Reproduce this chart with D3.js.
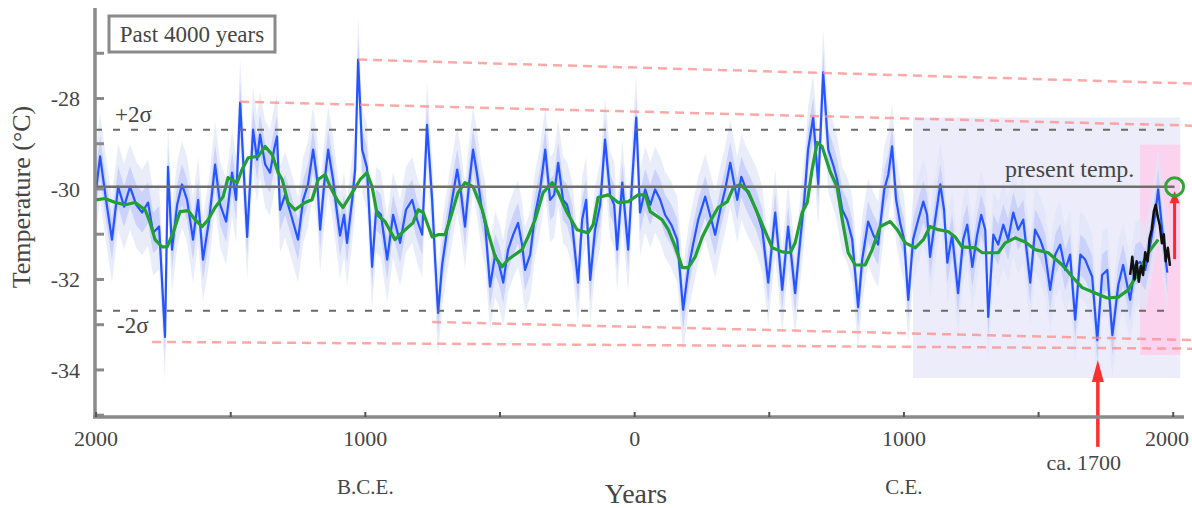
<!DOCTYPE html>
<html>
<head>
<meta charset="utf-8">
<script src="https://cdn.jsdelivr.net/npm/d3@7"></script>
<style>
  body { margin: 0; background: #fff; }
  svg { display: block; }
  text { font-family: "Liberation Serif", "Times New Roman", serif; fill: #454545; }
</style>
</head>
<body>
<svg id="chart" width="1192" height="508"></svg>
<script>
// Reconstructed Greenland summit temperature, past 4000 years (°C)
const blueYears = [-2000,-1985,-1963,-1941,-1918,-1896,-1874,-1851,-1829,-1807,-1788,-1766,-1744,-1733,-1718,-1699,-1681,-1662,-1640,-1621,-1603,-1580,-1558,-1539,-1517,-1495,-1480,-1465,-1450,-1439,-1417,-1402,-1391,-1372,-1354,-1339,-1328,-1317,-1298,-1276,-1250,-1231,-1213,-1194,-1179,-1168,-1153,-1138,-1120,-1109,-1094,-1079,-1068,-1049,-1038,-1027,-1012,-994,-975,-960,-942,-919,-897,-871,-849,-826,-808,-789,-771,-752,-741,-730,-715,-696,-678,-659,-644,-630,-615,-600,-585,-570,-555,-537,-518,-503,-488,-470,-451,-433,-418,-407,-388,-370,-351,-332,-314,-299,-284,-266,-251,-232,-210,-195,-180,-165,-147,-128,-110,-91,-76,-65,-46,-24,-9,6,20,39,58,76,95,113,136,158,180,199,217,236,262,280,299,318,336,355,381,396,414,433,451,474,496,522,548,570,596,615,630,644,663,682,700,719,737,752,771,789,808,830,845,867,886,904,927,942,956,971,986,1001,1016,1034,1053,1072,1086,1097,1116,1135,1149,1161,1179,1201,1220,1235,1254,1272,1287,1302,1313,1332,1350,1369,1387,1406,1424,1443,1469,1487,1506,1525,1543,1562,1580,1599,1617,1636,1655,1673,1699,1718,1736,1755,1774,1796,1814,1840,1859,1877,1896,1915,1933,1944,1959,1978];
const blueTemps = [-30.01,-29.28,-30.24,-31.12,-29.95,-30.39,-29.95,-30.35,-30.52,-30.30,-30.97,-30.83,-33.27,-29.51,-31.34,-30.35,-29.90,-30.24,-31.12,-30.24,-31.56,-30.68,-29.46,-30.35,-30.72,-29.64,-30.24,-28.09,-29.79,-31.06,-28.69,-29.35,-28.80,-29.46,-29.64,-29.13,-28.84,-30.46,-30.13,-30.57,-31.12,-30.24,-29.90,-29.13,-29.79,-30.90,-29.90,-29.13,-29.79,-30.35,-31.03,-30.57,-31.19,-30.24,-29.57,-27.14,-29.13,-29.53,-31.72,-30.46,-30.57,-31.56,-30.57,-31.19,-30.46,-30.24,-30.68,-31.01,-28.58,-30.24,-31.56,-32.74,-31.68,-30.90,-30.24,-29.57,-30.13,-30.83,-29.90,-29.13,-29.68,-30.35,-30.79,-32.16,-31.45,-31.68,-32.07,-31.34,-31.01,-30.75,-31.23,-31.79,-31.45,-30.57,-30.01,-29.13,-30.24,-30.13,-29.42,-30.24,-30.35,-30.79,-32.07,-30.68,-30.24,-32.01,-30.90,-30.35,-28.91,-30.13,-30.35,-31.34,-29.86,-31.34,-29.79,-28.42,-30.52,-30.01,-30.35,-30.01,-30.24,-30.57,-30.79,-31.12,-32.67,-31.79,-31.23,-30.68,-30.17,-30.57,-31.01,-30.46,-30.01,-29.42,-30.24,-29.73,-30.01,-30.24,-30.46,-30.90,-32.07,-30.52,-32.23,-30.83,-32.30,-31.12,-30.24,-29.13,-28.42,-29.90,-27.42,-29.13,-29.46,-29.79,-30.46,-30.68,-31.12,-32.61,-31.56,-30.72,-31.01,-31.23,-30.01,-29.68,-29.06,-30.24,-30.75,-31.12,-32.45,-31.12,-30.68,-30.28,-30.57,-31.50,-30.68,-29.90,-30.46,-31.63,-31.01,-32.30,-31.12,-30.79,-31.72,-31.01,-30.57,-30.90,-32.83,-31.01,-31.23,-30.79,-31.12,-30.52,-30.90,-30.68,-32.07,-30.90,-31.12,-31.45,-32.23,-31.45,-31.23,-31.79,-31.45,-32.89,-31.45,-31.56,-31.94,-33.34,-31.90,-31.79,-33.23,-32.12,-31.68,-32.45,-31.68,-31.61,-31.79,-31.23,-30.57,-30.01,-30.90,-31.85];

// Smoothed record
const smoothYears = [-2000,-1967,-1929,-1892,-1855,-1818,-1799,-1781,-1755,-1736,-1714,-1688,-1658,-1632,-1606,-1584,-1558,-1528,-1510,-1476,-1458,-1435,-1398,-1372,-1346,-1324,-1309,-1287,-1261,-1224,-1198,-1175,-1149,-1131,-1105,-1083,-1049,-1019,-994,-975,-956,-927,-890,-852,-823,-804,-785,-752,-730,-704,-678,-656,-630,-600,-566,-544,-518,-492,-470,-418,-396,-370,-340,-306,-284,-251,-214,-173,-154,-136,-98,-61,-24,13,39,58,102,125,151,177,199,225,251,280,310,344,366,392,422,455,485,511,548,578,596,622,641,659,678,696,726,752,771,793,819,856,882,912,949,975,1005,1042,1072,1097,1127,1164,1190,1216,1265,1291,1350,1376,1413,1450,1487,1536,1588,1625,1662,1710,1755,1796,1833,1870,1907,1944];
const smoothTemps = [-30.24,-30.21,-30.30,-30.35,-30.30,-30.46,-30.75,-31.12,-31.28,-31.28,-30.97,-30.50,-30.48,-30.68,-30.83,-30.68,-30.41,-30.17,-29.75,-29.86,-29.57,-29.31,-29.28,-29.06,-29.24,-29.64,-29.79,-30.30,-30.46,-30.30,-30.24,-29.79,-29.68,-29.95,-30.24,-30.41,-30.08,-29.79,-29.64,-29.95,-30.57,-30.72,-31.12,-30.90,-30.75,-30.46,-30.52,-31.06,-31.01,-31.01,-30.52,-30.08,-29.86,-29.95,-30.46,-30.97,-31.50,-31.72,-31.56,-31.34,-31.06,-30.68,-30.08,-29.86,-30.08,-30.52,-30.90,-30.97,-30.79,-30.19,-30.13,-30.30,-30.28,-30.13,-30.13,-30.50,-30.68,-30.90,-31.28,-31.74,-31.74,-31.50,-31.06,-30.72,-30.41,-30.28,-29.97,-29.90,-30.06,-30.52,-30.94,-31.30,-31.39,-31.41,-31.19,-30.52,-30.30,-29.57,-28.97,-29.06,-29.62,-29.95,-30.68,-31.41,-31.68,-31.68,-31.34,-30.83,-30.72,-30.90,-31.19,-31.30,-31.12,-30.83,-30.90,-30.94,-31.06,-31.28,-31.30,-31.41,-31.41,-31.19,-31.08,-31.17,-31.34,-31.41,-31.68,-31.94,-32.18,-32.30,-32.41,-32.39,-32.23,-31.85,-31.41,-31.12];

// Recent record
const recentYears = [1840,1848,1856,1864,1872,1880,1888,1896,1905,1912,1920,1928,1935,1942,1950,1958,1965,1972,1980,1988];
const recentTemps = [-31.90,-31.50,-32.00,-31.60,-32.05,-31.70,-31.90,-31.40,-31.60,-31.10,-30.90,-30.50,-30.35,-30.60,-30.80,-31.20,-31.00,-31.60,-31.30,-31.70];

const uncertaintyInner = 0.45;
const uncertaintyOuter = 0.95;

const xTickValues = [-2000, -1000, 0, 1000, 2000];
const xTickLabels = ["2000", "1000", "0", "1000", "2000"];
const xMinorTicks = [-2000, -1500, -1000, -500, 0, 500, 1000, 1500, 2000];
const yTickValues = [-34, -32, -30, -28];
const yTickLabels = ["-34", "-32", "-30", "-28"];
const yMinorTicks = [-35, -34, -33, -32, -31, -30, -29, -28, -27];
const eraLabels = ["B.C.E.", "C.E."];
const eraYears = [-1000, 1000];

const sigmaLevels = [-28.69, -32.69];
const sigmaLabels = ["+2σ", "-2σ"];
const presentTemp = -29.95;
const presentYear = 2005;
const presentLabel = "present temp.";
const warmingStartTemp = -31.55;

const minimumYear = 1720;
const minimumLabel = "ca. 1700";

// Sloped bounds from the extreme values to the end of the record
const trendStartYears = [-1027, -1465, -752, -1792];
const trendStartTemps = [-27.14, -28.07, -32.94, -33.38];
const trendEndYear = 2070;
const trendEndTemps = [-27.67, -28.60, -33.34, -33.53];

// Highlighted periods: [startYear, endYear, lowTemp, highTemp]
const periodLong = [1034, 2026, -34.18, -28.42];
const periodRecent = [1877, 2026, -33.67, -29.02];

const svg = d3.select("#chart");
const x = d3.scaleLinear().domain([-2004, 2040]).range([95, 1184]);
const y = d3.scaleLinear().domain([-35.04, -26]).range([417, 8]);

// Highlighted periods
svg.append("rect")
  .attr("x", x(periodLong[0])).attr("width", x(periodLong[1]) - x(periodLong[0]))
  .attr("y", y(periodLong[3])).attr("height", y(periodLong[2]) - y(periodLong[3]))
  .attr("fill", "#ececfb");
svg.append("rect")
  .attr("x", x(periodRecent[0])).attr("width", x(periodRecent[1]) - x(periodRecent[0]))
  .attr("y", y(periodRecent[3])).attr("height", y(periodRecent[2]) - y(periodRecent[3]))
  .attr("fill", "#fbd3ee");

const pts = blueYears.map((yr, i) => ({ year: yr, t: blueTemps[i] }));

// Uncertainty envelope
const band = w => d3.area().x(d => x(d.year)).y0(d => y(d.t - w)).y1(d => y(d.t + w));
svg.append("path").datum(pts).attr("d", band(uncertaintyOuter))
  .attr("fill", "#dfe6f8").attr("opacity", 0.7);
svg.append("path").datum(pts).attr("d", band(uncertaintyInner))
  .attr("fill", "#c6cdfa").attr("opacity", 0.85);

// Reconstruction
svg.append("path").datum(pts)
  .attr("d", d3.line().x(d => x(d.year)).y(d => y(d.t)))
  .attr("fill", "none").attr("stroke", "#2555ff").attr("stroke-width", 2.2)
  .attr("stroke-linejoin", "round");

// Smoothed curve
svg.append("path").datum(smoothYears.map((yr, i) => [yr, smoothTemps[i]]))
  .attr("d", d3.line().x(d => x(d[0])).y(d => y(d[1])))
  .attr("fill", "none").attr("stroke", "#22a033").attr("stroke-width", 3.2)
  .attr("stroke-linejoin", "round");

// Recent record
svg.append("path").datum(recentYears.map((yr, i) => [yr, recentTemps[i]]))
  .attr("d", d3.line().x(d => x(d[0])).y(d => y(d[1])))
  .attr("fill", "none").attr("stroke", "#111").attr("stroke-width", 2.5)
  .attr("stroke-linejoin", "round");

// Sloped bounds
trendStartYears.forEach((yr, i) => {
  svg.append("line")
    .attr("x1", x(yr)).attr("y1", y(trendStartTemps[i]))
    .attr("x2", x(trendEndYear)).attr("y2", y(trendEndTemps[i]))
    .attr("stroke", "#ff8c8c").attr("stroke-width", 2.5)
    .attr("stroke-dasharray", "9,6").attr("opacity", 0.75);
});

// ±2σ levels
sigmaLevels.forEach((lv, i) => {
  svg.append("line")
    .attr("x1", x(-2004)).attr("x2", x(1990))
    .attr("y1", y(lv)).attr("y2", y(lv))
    .attr("stroke", "#6a6a6a").attr("stroke-width", 2)
    .attr("stroke-dasharray", "7,11");
});
svg.append("text").attr("x", 115).attr("y", y(sigmaLevels[0]) - 8)
  .attr("font-size", 23).text(sigmaLabels[0]);
svg.append("text").attr("x", 117).attr("y", y(sigmaLevels[1]) + 22)
  .attr("font-size", 23).text(sigmaLabels[1]);

// Present temperature
svg.append("line")
  .attr("x1", x(-2004)).attr("x2", x(presentYear))
  .attr("y1", y(presentTemp)).attr("y2", y(presentTemp))
  .attr("stroke", "#6e6e6e").attr("stroke-width", 2.5);
svg.append("text").attr("x", 1005).attr("y", y(presentTemp) - 10)
  .attr("font-size", 24).text(presentLabel);

// Arrows
function arrow(yr, t0, t1, headLen, headW, color, width) {
  const px = x(yr), yTip = y(t1), yTail = y(t0);
  svg.append("line").attr("x1", px).attr("x2", px)
    .attr("y1", yTail).attr("y2", yTip + headLen - 2)
    .attr("stroke", color).attr("stroke-width", width);
  svg.append("path")
    .attr("d", `M${px},${yTip} L${px - headW / 2},${yTip + headLen} L${px + headW / 2},${yTip + headLen} Z`)
    .attr("fill", color);
}
arrow(presentYear, warmingStartTemp, presentTemp - 0.1, 12, 10, "#ff2a2a", 3);
arrow(minimumYear, -35.7, -33.78, 22, 12, "#ff3030", 3.5);

svg.append("circle").attr("cx", x(presentYear)).attr("cy", y(presentTemp)).attr("r", 9)
  .attr("fill", "none").attr("stroke", "#2fa43a").attr("stroke-width", 3);

svg.append("text").attr("x", x(minimumYear) - 14).attr("y", 470)
  .attr("text-anchor", "middle").attr("font-size", 22).text(minimumLabel);

// Axes
const axisColor = "#8a8a8a";
svg.append("line").attr("x1", 95).attr("x2", 95).attr("y1", y(-26)).attr("y2", y(-35.04))
  .attr("stroke", axisColor).attr("stroke-width", 3.5);
svg.append("line").attr("x1", 93).attr("x2", x(2040)).attr("y1", y(-35.04)).attr("y2", y(-35.04))
  .attr("stroke", axisColor).attr("stroke-width", 3.5);

yMinorTicks.forEach(v => {
  svg.append("line").attr("x1", 95).attr("x2", 104).attr("y1", y(v)).attr("y2", y(v))
    .attr("stroke", axisColor).attr("stroke-width", 3);
});
xMinorTicks.forEach(v => {
  svg.append("line").attr("x1", x(v)).attr("x2", x(v)).attr("y1", y(-35.04)).attr("y2", y(-35.04) - 5)
    .attr("stroke", "#555").attr("stroke-width", 2);
});

yTickValues.forEach((v, i) => {
  svg.append("text").attr("x", 80).attr("y", y(v)).attr("dy", "0.35em")
    .attr("text-anchor", "end").attr("font-size", 22).text(yTickLabels[i]);
});
xTickValues.forEach((v, i) => {
  const last = i === xTickValues.length - 1;
  svg.append("text").attr("x", last ? 1189 : x(v)).attr("y", 446)
    .attr("text-anchor", last ? "end" : "middle").attr("font-size", 22).text(xTickLabels[i]);
});
eraYears.forEach((v, i) => {
  svg.append("text").attr("x", x(v)).attr("y", 494)
    .attr("text-anchor", "middle").attr("font-size", 21).text(eraLabels[i]);
});

svg.append("text").attr("x", 636).attr("y", 503).attr("text-anchor", "middle")
  .attr("font-size", 28).text("Years");
svg.append("text").attr("transform", "translate(30,197) rotate(-90)")
  .attr("text-anchor", "middle").attr("font-size", 26).text("Temperature (°C)");

// Legend box
svg.append("rect").attr("x", 109).attr("y", 16).attr("width", 166).attr("height", 36)
  .attr("fill", "#fff").attr("stroke", "#8a8a8a").attr("stroke-width", 3);
svg.append("text").attr("x", 192).attr("y", 42).attr("text-anchor", "middle")
  .attr("font-size", 23).text("Past 4000 years");
</script>
</body>
</html>
